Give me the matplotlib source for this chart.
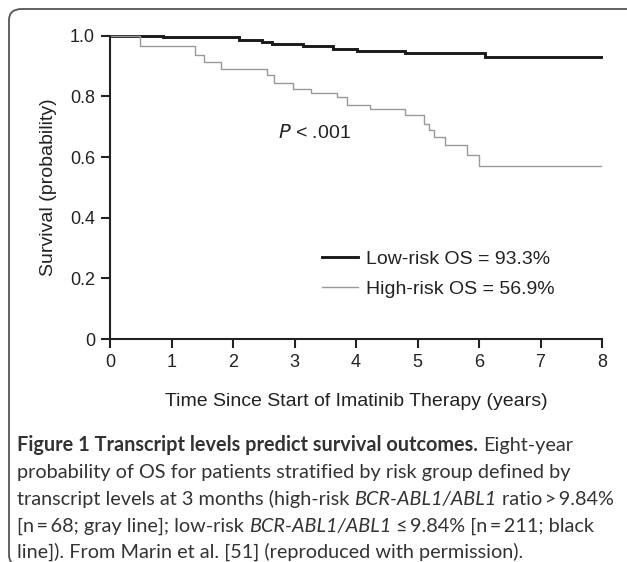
import matplotlib
matplotlib.use("Agg")
import matplotlib.pyplot as plt
from matplotlib.patches import FancyBboxPatch

# ---- data ----
low_t = [0, 0.86, 2.10, 2.47, 2.63, 3.14, 3.63, 4.01, 4.80, 6.10, 7.98]
low_v = [1.0, 0.996, 0.987, 0.979, 0.973, 0.967, 0.957, 0.948, 0.943, 0.930, 0.930]

high_t = [0, 0.48, 1.39, 1.53, 1.81, 2.56, 2.66, 2.98, 3.27, 3.69, 3.86, 4.22,
          4.80, 5.10, 5.19, 5.27, 5.44, 5.81, 6.00, 7.98]
high_v = [1.0, 0.966, 0.938, 0.912, 0.889, 0.872, 0.844, 0.823, 0.811, 0.799, 0.770,
          0.759, 0.737, 0.710, 0.689, 0.667, 0.638, 0.606, 0.569, 0.569]

low_label = "Low-risk OS = 93.3%"
high_label = "High-risk OS = 56.9%"
x_ticks = [0, 1, 2, 3, 4, 5, 6, 7, 8]
y_ticks = [0, 0.2, 0.4, 0.6, 0.8, 1.0]
y_ticklabels = ["0", "0.2", "0.4", "0.6", "0.8", "1.0"]

W, H = 627, 562
fig = plt.figure(figsize=(W / 100, H / 100), dpi=100)
plt.rcParams['font.family'] = ['Liberation Sans', 'DejaVu Sans']
txt_color = '#222222'

ax = fig.add_axes([110 / W, 1 - 339 / H, 492 / W, (339 - 35.7) / H])
ax.step(low_t, low_v, where='post', color='#1a1a1a', lw=2.1, clip_on=False,
        label=low_label, solid_joinstyle='miter')
ax.step(high_t, high_v, where='post', color='#999999', lw=1.0, clip_on=False,
        label=high_label)

ax.set_xlim(0, 8)
ax.set_ylim(0, 1.0)
ax.set_xticks(x_ticks)
ax.set_xticklabels([str(v) for v in x_ticks])
ax.set_yticks(y_ticks)
ax.set_yticklabels(y_ticklabels)
for s in ['top', 'right']:
    ax.spines[s].set_visible(False)
for s in ['left', 'bottom']:
    ax.spines[s].set_linewidth(1.5)
    ax.spines[s].set_color(txt_color)
ax.tick_params(axis='both', direction='out', length=6.3, width=1.5, colors=txt_color,
               labelsize=13, pad=4.5, labelcolor=txt_color)
ax.set_xlabel("Time Since Start of Imatinib Therapy (years)", fontsize=14,
              color=txt_color, labelpad=16)
ax.set_ylabel("Survival (probability)", fontsize=14, color=txt_color, labelpad=9)

ax.text(2.73, 0.68, r"$\it{P}$ < .001", fontsize=14, color=txt_color, va='center')

leg = ax.legend(loc='upper left', bbox_to_anchor=(0.415, 0.318), frameon=False,
                fontsize=14, handlelength=1.85, handletextpad=0.4, labelspacing=0.62,
                borderaxespad=0)
for t in leg.get_texts():
    t.set_color(txt_color)

# border
box = FancyBboxPatch((9 / W, -4 / H), 700 / W, (562 - 5) / H,
                     boxstyle="round,pad=0,rounding_size=0.02",
                     transform=fig.transFigure, fill=False, lw=1.3,
                     edgecolor='#555555', clip_on=False)
fig.patches.append(box)

# caption
renderer = fig.canvas.get_renderer()
cap_family = ['Lato', 'DejaVu Sans']
cap_color = '#333333'
ts = "\u2009"

lines = [
    [("Figure 1 Transcript levels predict survival outcomes.", 'bold', 'normal'),
     ("Eight-year", 'normal', 'normal')],
    [("probability of OS for patients stratified by risk group defined by", 'normal', 'normal')],
    [("transcript levels at 3 months (high-risk", 'normal', 'normal'),
     ("BCR-ABL1/ABL1", 'normal', 'italic'),
     ("ratio" + ts + ">" + ts + "9.84%", 'normal', 'normal')],
    [("[n" + ts + "=" + ts + "68; gray line]; low-risk", 'normal', 'normal'),
     ("BCR-ABL1/ABL1", 'normal', 'italic'),
     ("\u2264" + ts + "9.84% [n" + ts + "=" + ts + "211; black", 'normal', 'normal')],
    [("line]). From Marin et al. [51] (reproduced with permission).", 'normal', 'normal')],
]
max_w = 598


def text_w(s, size, **kw):
    t = fig.text(0, 0, s, fontsize=size, family=cap_family, **kw)
    w = t.get_window_extent(renderer).width
    t.remove()
    return w


def line_w(segs, size):
    sp = text_w("x x", size) - text_w("xx", size)
    total = 0
    for i, (s, wgt, sty) in enumerate(segs):
        if i > 0:
            total += sp
        total += text_w(s, size, fontweight=wgt, fontstyle=sty)
    return total


# common caption font size: largest that keeps every line inside the frame
cap_size = min(10 * max_w / line_w(segs, 10) for segs in lines)

space_w = text_w("x x", cap_size) - text_w("xx", cap_size)
baselines = [451, 478, 505, 532, 558]
x0 = 17
for segs, yb in zip(lines, baselines):
    x = x0
    for i, (s, wgt, sty) in enumerate(segs):
        if i > 0:
            x += space_w
        t = fig.text(x / W, 1 - yb / H, s, fontsize=cap_size, family=cap_family,
                     fontweight=wgt, fontstyle=sty, color=cap_color, va='baseline')
        x += t.get_window_extent(renderer).width

fig.savefig("out.png", dpi=100)
